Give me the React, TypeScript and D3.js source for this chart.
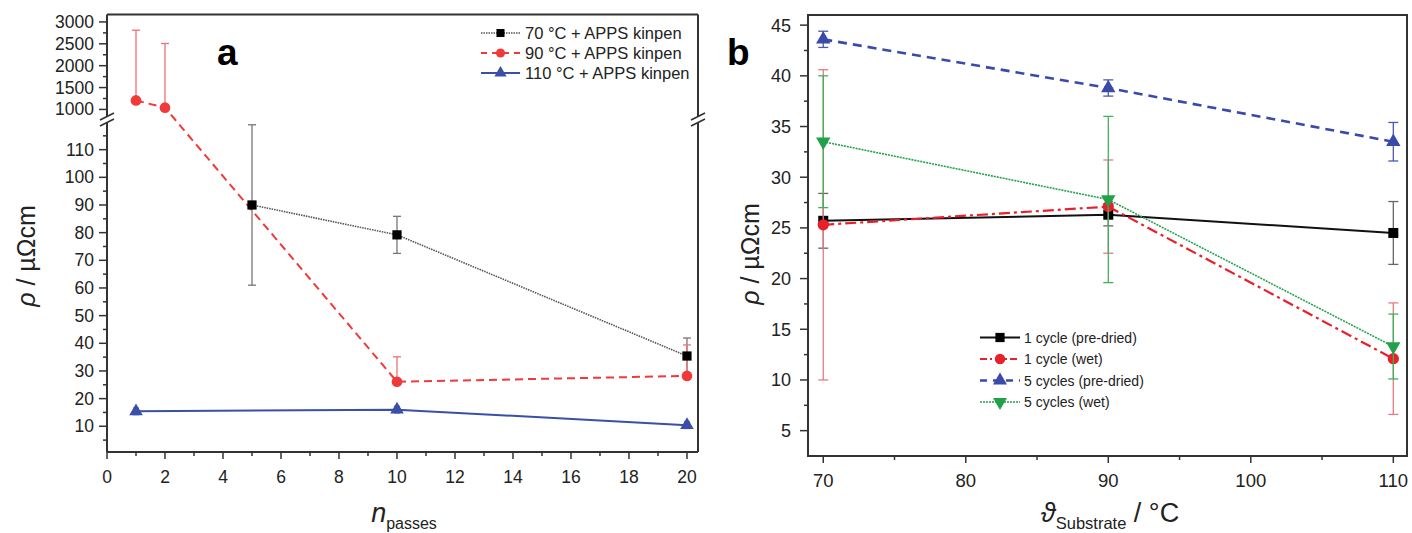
import React from "react";
import * as d3 from "d3";

const FONT = "'Liberation Sans', Arial, Helvetica, sans-serif";

// ---------- Panel a data ----------
const passes70 = [5, 10, 20];
const rho70 = [90, 79.2, 35.4];
const err70 = [29, 6.7, 6.5];

const passes90 = [1, 2, 10, 20];
const rho90 = [1205, 1040, 26.1, 28.2];
const err90Up = [1605, 1467, 9, 11.2];

const passes110 = [1, 10, 20];
const rho110 = [15.4, 16.0, 10.4];
const err110 = [1.2, 1.2, 1.2];

const legendA = ["70 °C + APPS kinpen", "90 °C + APPS kinpen", "110 °C + APPS kinpen"];

const xTicksA = [0, 2, 4, 6, 8, 10, 12, 14, 16, 18, 20];
const xMinorA = [1, 3, 5, 7, 9, 11, 13, 15, 17, 19];
const yTicksALow = [10, 20, 30, 40, 50, 60, 70, 80, 90, 100, 110];
const yMinorALow = [5, 15, 25, 35, 45, 55, 65, 75, 85, 95, 105, 115];
const yTicksAHigh = [1000, 1500, 2000, 2500, 3000];
const yMinorAHigh = [1250, 1750, 2250, 2750];

// ---------- Panel b data ----------
const tempsB = [70, 90, 110];
const rhoPre1 = [25.7, 26.3, 24.5];
const errPre1 = [2.7, 1.1, 3.1];
const rhoWet1 = [25.3, 27.1, 12.1];
const errWet1 = [15.3, 4.6, 5.5];
const rhoPre5 = [43.6, 38.8, 33.5];
const errPre5 = [0.8, 0.8, 1.9];
const rhoWet5 = [33.5, 27.8, 13.3];
const errWet5 = [6.5, 8.2, 3.2];

const legendB = ["1 cycle (pre-dried)", "1 cycle (wet)", "5 cycles (pre-dried)", "5 cycles (wet)"];

const xTicksB = [70, 80, 90, 100, 110];
const xMinorB = [75, 85, 95, 105];
const yTicksB = [5, 10, 15, 20, 25, 30, 35, 40, 45];
const yMinorB = [7.5, 12.5, 17.5, 22.5, 27.5, 32.5, 37.5, 42.5];

// ---------- Layout ----------
const A = { left: 107, right: 698, top: 14.5, bottom: 452, breakTop: 116, breakBot: 122 };
const B = { left: 808, right: 1407, top: 15, bottom: 456 };

const xA = d3.scaleLinear().domain([0, 20.38]).range([A.left, A.right]);
const yALow = d3.scaleLinear().domain([0.7, 120]).range([A.bottom, A.breakBot]);
const yAHigh = d3.scaleLinear().domain([850, 3170]).range([A.breakTop, A.top]);
const yA = (v: number) => (v >= 500 ? yAHigh(v) : yALow(v));

const xB = d3.scaleLinear().domain([68.93, 110.96]).range([B.left, B.right]);
const yB = d3.scaleLinear().domain([2.5, 46]).range([B.bottom, B.top]);

const lineGen = d3.line<[number, number]>().x((d) => d[0]).y((d) => d[1]);

type Shape = "square" | "circle" | "up" | "down";
function Marker({ x, y, shape, fill, size }: { x: number; y: number; shape: Shape; fill: string; size: number }) {
  const type =
    shape === "square" ? d3.symbolSquare : shape === "circle" ? d3.symbolCircle : d3.symbolTriangle;
  const p = d3.symbol().type(type).size(size)() as string;
  const rot = shape === "down" ? 180 : 0;
  return <path d={p} transform={`translate(${x},${y}) rotate(${rot})`} fill={fill} />;
}

function ErrBar({ x, y1, y2, color, cap, top = true, bottom = true }: any) {
  return (
    <g stroke={color} strokeWidth={1.3} fill="none">
      <line x1={x} x2={x} y1={y1} y2={y2} />
      {top && <line x1={x - cap / 2} x2={x + cap / 2} y1={y2} y2={y2} />}
      {bottom && <line x1={x - cap / 2} x2={x + cap / 2} y1={y1} y2={y1} />}
    </g>
  );
}

export default function App() {
  const axisColor = "#333";
  const p70 = passes70.map((n, i) => [xA(n), yA(rho70[i])] as [number, number]);
  const p90 = passes90.map((n, i) => [xA(n), yA(rho90[i])] as [number, number]);
  const p110 = passes110.map((n, i) => [xA(n), yA(rho110[i])] as [number, number]);

  const red = "#f03a3a";
  const blueA = "#3a4fa8";

  const seriesB = [
    { vals: rhoPre1, errs: errPre1, color: "#111", err: "#666", dash: undefined, width: 2, shape: "square" as Shape, size: 100 },
    { vals: rhoWet1, errs: errWet1, color: "#e8202a", err: "#e87a80", dash: "11,4,3,4", width: 2.2, shape: "circle" as Shape, size: 100 },
    { vals: rhoPre5, errs: errPre5, color: "#3a4aa8", err: "#4a5ab0", dash: "9,6", width: 2.6, shape: "up" as Shape, size: 90 },
    { vals: rhoWet5, errs: errWet5, color: "#22a04a", err: "#3cb45a", dash: "2,1", width: 1.6, shape: "down" as Shape, size: 90 },
  ];

  const breakMarks = (x: number) => (
    <g stroke={axisColor} strokeWidth={1.6}>
      <line x1={x - 7} y1={A.breakTop + 4} x2={x + 7} y2={A.breakTop - 3} />
      <line x1={x - 7} y1={A.breakBot + 4} x2={x + 7} y2={A.breakBot - 3} />
    </g>
  );

  return (
    <svg width={1412} height={533} style={{ display: "block", position: "absolute", left: 0, top: 0 }} fontFamily={FONT}>
      <rect width={1412} height={533} fill="#fff" />

      {/* ================= Panel a ================= */}
      <g stroke={axisColor} strokeWidth={2} fill="none">
        <line x1={A.left} x2={A.right} y1={A.top} y2={A.top} />
        <line x1={A.left} x2={A.right} y1={A.bottom} y2={A.bottom} />
        <line x1={A.left} x2={A.left} y1={A.top} y2={A.breakTop} />
        <line x1={A.left} x2={A.left} y1={A.breakBot} y2={A.bottom} />
        <line x1={A.right} x2={A.right} y1={A.top} y2={A.breakTop} />
        <line x1={A.right} x2={A.right} y1={A.breakBot} y2={A.bottom} />
      </g>
      {breakMarks(A.left)}
      {breakMarks(A.right)}
      <g stroke={axisColor} strokeWidth={1.5}>
        {xTicksA.map((t) => (
          <line key={"xa" + t} x1={xA(t)} x2={xA(t)} y1={A.bottom} y2={A.bottom + 7} />
        ))}
        {xMinorA.map((t) => (
          <line key={"xam" + t} x1={xA(t)} x2={xA(t)} y1={A.bottom} y2={A.bottom + 4} />
        ))}
        {yTicksALow.map((t) => (
          <line key={"yal" + t} x1={A.left - 8} x2={A.left} y1={yALow(t)} y2={yALow(t)} />
        ))}
        {yMinorALow.map((t) => (
          <line key={"yalm" + t} x1={A.left - 4} x2={A.left} y1={yALow(t)} y2={yALow(t)} />
        ))}
        {yTicksAHigh.map((t) => (
          <line key={"yah" + t} x1={A.left - 8} x2={A.left} y1={yAHigh(t)} y2={yAHigh(t)} />
        ))}
        {yMinorAHigh.map((t) => (
          <line key={"yahm" + t} x1={A.left - 4} x2={A.left} y1={yAHigh(t)} y2={yAHigh(t)} />
        ))}
      </g>
      <g fontSize={17.5} fill="#222" textAnchor="middle">
        {xTicksA.map((t) => (
          <text key={"xal" + t} x={xA(t)} y={483}>{t}</text>
        ))}
      </g>
      <g fontSize={17.5} fill="#222" textAnchor="end">
        {yTicksALow.map((t) => (
          <text key={"yall" + t} x={A.left - 13} y={yALow(t) + 6}>{t}</text>
        ))}
        {yTicksAHigh.map((t) => (
          <text key={"yahl" + t} x={A.left - 13} y={yAHigh(t) + 6}>{t}</text>
        ))}
      </g>
      <text transform="translate(35,256) rotate(-90)" textAnchor="middle" fontSize={25} fill="#222">
        <tspan fontStyle="italic">ρ</tspan> / µΩcm
      </text>
      <text x={404} y={522} textAnchor="middle" fill="#222">
        <tspan fontSize={27} fontStyle="italic">n</tspan>
        <tspan fontSize={16} dy={7}>passes</tspan>
      </text>
      <text x={217} y={65} fontSize={37} fontWeight="bold" fill="#000">a</text>

      {/* lines a */}
      <path d={lineGen(p90) as string} fill="none" stroke={red} strokeWidth={2} strokeDasharray="8,5" />
      <path d={lineGen(p70) as string} fill="none" stroke="#555" strokeWidth={1.6} strokeDasharray="1.5,1" />
      <path d={lineGen(p110) as string} fill="none" stroke={blueA} strokeWidth={2} />
      {passes70.map((n, i) => (
        <ErrBar key={"e70" + i} x={xA(n)} y1={yA(rho70[i] - err70[i])} y2={yA(rho70[i] + err70[i])} color="#777" cap={8} />
      ))}
      {passes90.map((n, i) => (
        <ErrBar key={"e90" + i} x={xA(n)} y1={yA(rho90[i])} y2={yA(rho90[i] + err90Up[i])} color="#f07070" cap={8} bottom={false} />
      ))}
      {passes110.map((n, i) => (
        <ErrBar key={"e110" + i} x={xA(n)} y1={yA(rho110[i] - err110[i])} y2={yA(rho110[i] + err110[i])} color="#6a7ac0" cap={6} />
      ))}
      {p90.map((p, i) => <Marker key={"m90" + i} x={p[0]} y={p[1]} shape="circle" fill={red} size={90} />)}
      {p70.map((p, i) => <Marker key={"m70" + i} x={p[0]} y={p[1]} shape="square" fill="#000" size={85} />)}
      {p110.map((p, i) => <Marker key={"m110" + i} x={p[0]} y={p[1]} shape="up" fill={blueA} size={80} />)}

      {/* legend a */}
      {legendA.map((label, i) => {
        const cy = 33 + i * 20;
        const cfg = [
          { stroke: "#555", dash: "1.5,1", w: 1.5, shape: "square" as Shape, fill: "#000" },
          { stroke: red, dash: "6,5", w: 2, shape: "circle" as Shape, fill: red },
          { stroke: blueA, dash: undefined, w: 2, shape: "up" as Shape, fill: blueA },
        ][i];
        return (
          <g key={"la" + i}>
            <line x1={481} x2={520} y1={cy} y2={cy} stroke={cfg.stroke} strokeWidth={cfg.w} strokeDasharray={cfg.dash} />
            <Marker x={500.5} y={cy} shape={cfg.shape} fill={cfg.fill} size={65} />
            <text x={525} y={cy + 6} fontSize={16.5} fill="#222">{label}</text>
          </g>
        );
      })}

      {/* ================= Panel b ================= */}
      <rect x={B.left} y={B.top} width={B.right - B.left} height={B.bottom - B.top} fill="none" stroke={axisColor} strokeWidth={2} />
      <g stroke={axisColor} strokeWidth={1.5}>
        {xTicksB.map((t) => (
          <line key={"xb" + t} x1={xB(t)} x2={xB(t)} y1={B.bottom} y2={B.bottom + 7} />
        ))}
        {xMinorB.map((t) => (
          <line key={"xbm" + t} x1={xB(t)} x2={xB(t)} y1={B.bottom} y2={B.bottom + 4} />
        ))}
        {yTicksB.map((t) => (
          <line key={"yb" + t} x1={B.left - 8} x2={B.left} y1={yB(t)} y2={yB(t)} />
        ))}
        {yMinorB.map((t) => (
          <line key={"ybm" + t} x1={B.left - 4} x2={B.left} y1={yB(t)} y2={yB(t)} />
        ))}
      </g>
      <g fontSize={18.5} fill="#222" textAnchor="middle">
        {xTicksB.map((t) => (
          <text key={"xbl" + t} x={xB(t)} y={487}>{t}</text>
        ))}
      </g>
      <g fontSize={18} fill="#222" textAnchor="end">
        {yTicksB.map((t) => (
          <text key={"ybl" + t} x={B.left - 17} y={yB(t) + 6.5}>{t}</text>
        ))}
      </g>
      <text transform="translate(759,254) rotate(-90)" textAnchor="middle" fontSize={25} fill="#222">
        <tspan fontStyle="italic">ρ</tspan> / µΩcm
      </text>
      <text x={1110} y={522} textAnchor="middle" fill="#222">
        <tspan fontSize={27} fontStyle="italic">ϑ</tspan>
        <tspan fontSize={16.5} dy={7}>Substrate</tspan>
        <tspan fontSize={27} dy={-7}> / °C</tspan>
      </text>
      <text x={727} y={65} fontSize={37} fontWeight="bold" fill="#000">b</text>

      {seriesB.map((s, k) => (
        <path
          key={"lb" + k}
          d={lineGen(tempsB.map((t, i) => [xB(t), yB(s.vals[i])] as [number, number])) as string}
          fill="none"
          stroke={s.color}
          strokeWidth={s.width}
          strokeDasharray={s.dash}
        />
      ))}
      {seriesB.map((s, k) => (
        <g key={"gb" + k}>
          {tempsB.map((t, i) => (
            <ErrBar key={"eb" + i} x={xB(t)} y1={yB(s.vals[i] - s.errs[i])} y2={yB(s.vals[i] + s.errs[i])} color={s.err} cap={10} />
          ))}
          {tempsB.map((t, i) => (
            <Marker key={"mb" + i} x={xB(t)} y={yB(s.vals[i])} shape={s.shape} fill={s.color === "#111" ? "#000" : s.color} size={s.size} />
          ))}
        </g>
      ))}

      {legendB.map((label, i) => {
        const cy = 337.5 + i * 21.5;
        const s = seriesB[i];
        return (
          <g key={"lbg" + i}>
            <line x1={980} x2={1020} y1={cy} y2={cy} stroke={s.color} strokeWidth={s.width} strokeDasharray={s.dash === "11,4,3,4" ? "7,3,2,3" : s.dash === "9,6" ? "7,6" : s.dash} />
            <Marker x={1000} y={cy} shape={s.shape} fill={s.color === "#111" ? "#000" : s.color} size={85} />
            <text x={1024} y={cy + 5} fontSize={14} fill="#222">{label}</text>
          </g>
        );
      })}
    </svg>
  );
}
